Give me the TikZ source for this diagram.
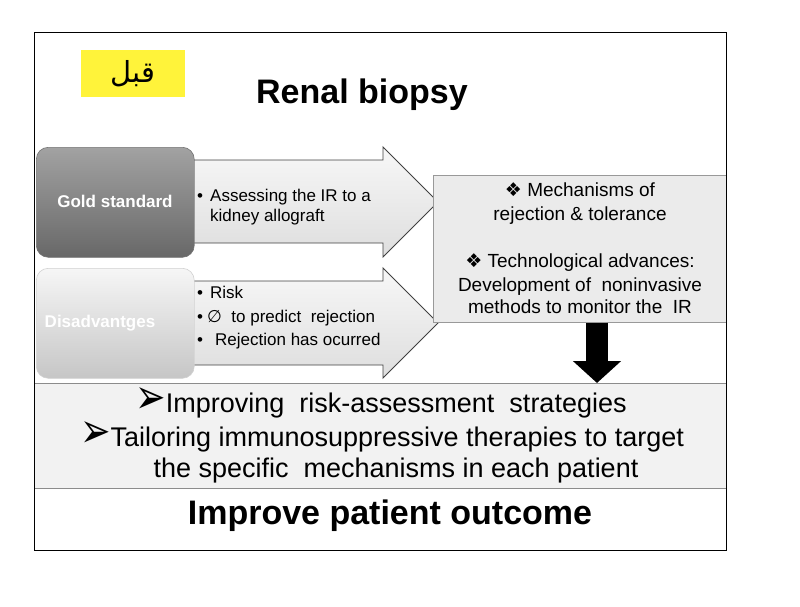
\documentclass[tikz,border=0pt]{standalone}
\usepackage{fontspec}
\setmainfont{Liberation Sans}
\newfontfamily\symfont{DejaVu Sans}
\newfontfamily\arabicfont[Script=Arabic]{DejaVu Sans}
\TeXXeTstate=1
\usetikzlibrary{arrows.meta}

\definecolor{tagyellow}{RGB}{255,243,58}
\definecolor{goldtop}{RGB}{162,162,162}
\definecolor{goldbot}{RGB}{104,104,104}
\definecolor{distop}{RGB}{246,246,246}
\definecolor{disbot}{RGB}{198,198,198}

\newcommand{\fourdia}{{\symfont ❖}\ }
\newcommand{\arrowmark}{\raisebox{-1pt}{\scalebox{1.35}[1.8]{\symfont ➢}}}
\newcommand{\bul}[1]{\makebox[#1][l]{•}}

\begin{document}
\begin{tikzpicture}[x=1pt, y=-1pt, >=latex,
    sidebox/.style={rounded corners=12pt, minimum width=158pt, minimum height=110pt,
        anchor=north west, inner sep=0pt, text=white,
        font=\bfseries\fontsize{17}{20}\selectfont},
    blockarrow/.style={draw=black!75, line width=0.9pt, top color=black!3, bottom color=black!13},
    armtext/.style={anchor=base west, inner sep=0pt, font=\fontsize{17}{20}\selectfont},
    goaltext/.style={anchor=base, inner sep=0pt, font=\fontsize{19}{23}\selectfont},
    bandtext/.style={anchor=base, inner sep=0pt, font=\fontsize{27}{32}\selectfont}]

    \useasboundingbox (0,0) rectangle (800,607);

    % Titel und Markierung
    \node[fill=tagyellow, minimum width=104pt, minimum height=47pt, anchor=north west,
        inner sep=0pt, font=\arabicfont\fontsize{29}{30}\selectfont] (tag) at (81,50)
        {\beginR قبل\endR};
    \node[anchor=base, inner sep=0pt, font=\bfseries\fontsize{34}{40}\selectfont]
        (title) at (362,104) {Renal biopsy};

    % Blockpfeile
    \path[blockarrow] (180,160) -- (383,160) -- (383,147) -- (438,202)
        -- (383,257) -- (383,243) -- (180,243) -- cycle;
    \path[blockarrow] (180,281) -- (383,281) -- (383,268) -- (438,323)
        -- (383,378) -- (383,365) -- (180,365) -- cycle;

    % Kaesten links
    \node[sidebox, draw=black!55, line width=0.6pt, top color=goldtop, bottom color=goldbot]
        (gold) at (36,147) {};
    \node[font=\bfseries\fontsize{17}{20}\selectfont, text=white] (goldtxt) at (115,201)
        {Gold standard};
    \node[sidebox, draw=black!18, line width=0.6pt, top color=distop, bottom color=disbot]
        (dis) at (36,268) {};
    \node[font=\bfseries\fontsize{17}{20}\selectfont, text=white] (distxt) at (100,323)
        {Disadvantges};

    % Text im oberen Pfeil
    \node[armtext] (ir1) at (197,201.5) {\bul{13pt}Assessing the IR to a};
    \node[armtext] (ir2) at (210,221.5) {kidney allograft};

    % Text im unteren Pfeil
    \node[armtext] (risk1) at (197,298) {\bul{13pt}Risk};
    \node[armtext] (risk2) at (197,322) {\bul{10pt}{\symfont ∅}~~to predict~~rejection};
    \node[armtext] (risk3) at (197,345.5) {\bul{18pt}Rejection has ocurred};

    % Kasten rechts
    \node[fill=black!8, draw=black!40, line width=0.6pt, minimum width=293pt,
        minimum height=147pt, anchor=north west, inner sep=0pt] (goals) at (433,175) {};
    \node[goaltext] (goal1) at (580,196.5) {\fourdia Mechanisms of};
    \node[goaltext] (goal2) at (580,220) {rejection \& tolerance};
    \node[goaltext] (goal3) at (580,267.5) {\fourdia Technological advances:};
    \node[goaltext] (goal4) at (580,291) {Development of~~noninvasive};
    \node[goaltext] (goal5) at (580,313.5) {methods to monitor the~~IR};

    % Band unten
    \node[fill=black!5, draw=black!45, line width=0.8pt, minimum width=692pt,
        minimum height=105pt, anchor=north west, inner sep=0pt] (band) at (34,383) {};
    \node[bandtext] (aim1) at (381,412) {\arrowmark Improving~~risk-assessment~~strategies};
    \node[bandtext] (aim2) at (382,446) {\arrowmark Tailoring immunosuppressive therapies to target};
    \node[bandtext] (aim3) at (396,477) {the specific~~mechanisms in each patient};

    % Pfeil nach unten
    \draw[line width=22pt, -{Triangle[width=47pt, length=22pt]}]
        (597,0 |- goals.south) -- (597,0 |- band.north);

    % Ergebnis
    \node[anchor=base, inner sep=0pt, font=\bfseries\fontsize{34}{40}\selectfont]
        (outcome) at (390,524) {Improve patient outcome};

    % Rahmen
    \node[draw, line width=1.4pt, minimum width=692pt, minimum height=518pt,
        anchor=north west, inner sep=0pt] (frame) at (34,32) {};

\end{tikzpicture}
\end{document}
